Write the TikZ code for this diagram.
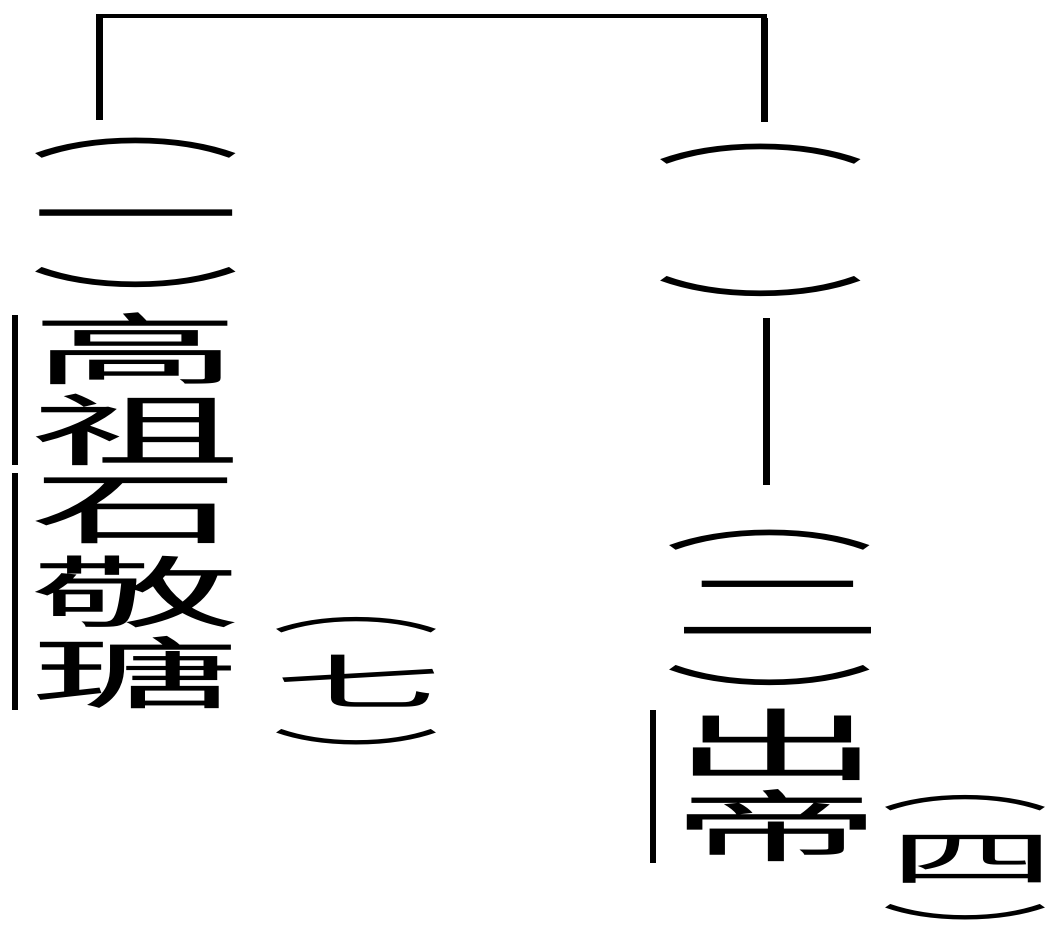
\documentclass[tikz,border=0pt]{standalone}
\usepackage{fontspec}
\usepackage{graphicx}
\newfontfamily\cjk{Noto Sans CJK SC}
% horizontally widened glyph
\newcommand\wide[2]{\scalebox{#1}[1]{#2}}
% closing vertical bracket lowered towards the baseline, box trimmed to the arc
\newcommand\closep{\raisebox{-0.6em}[0.3em][0pt]{︶}}
\begin{document}
\begin{tikzpicture}[x=1pt,y=-1pt,
  bigchar/.style={inner sep=0pt, font=\cjk\fontsize{78}{78}\selectfont},
  smallchar/.style={inner sep=0pt, font=\cjk\fontsize{60}{60}\selectfont},
  toprule/.style={line width=4pt},
  stem/.style={line width=7pt},
  sideline/.style={line width=6pt}]
\useasboundingbox[fill=white] (0,0) rectangle (1061,930);

% ---- left branch: (一) 高祖石敬瑭 (七)
\node[bigchar] (lpo) at (136,148) {\wide{2.7}{︵}};
\node[bigchar] (lnum) at (136,227) {\wide{2.7}{一}};
\node[bigchar] (lpc) at (136,274) {\wide{2.7}{\closep}};
\node[bigchar] (g1) at (136,349) {\wide{2.7}{高}};
\node[bigchar] (g2) at (136,430) {\wide{2.7}{祖}};
\node[bigchar] (g3) at (136,511) {\wide{2.7}{石}};
\node[bigchar] (g4) at (136,592) {\wide{2.7}{敬}};
\node[bigchar] (g5) at (136,673) {\wide{2.7}{瑭}};
\node[smallchar] (qpo) at (356,625) {\wide{2.8}{︵}};
\node[smallchar] (qnum) at (358,681) {\wide{2.8}{七}};
\node[smallchar] (qpc) at (356,734) {\wide{2.8}{\closep}};

% ---- right branch: ( ) | (二) 出帝 (四)
\node[bigchar] (rpo) at (761,154) {\wide{2.7}{︵}};
\node[bigchar] (rpc) at (761,283) {\wide{2.7}{\closep}};
\node[bigchar] (spo) at (770,540) {\wide{2.7}{︵}};
\node[bigchar] (snum) at (778,608) {\wide{2.7}{二}};
\node[bigchar] (spc) at (770,672) {\wide{2.7}{\closep}};
\node[bigchar] (c1) at (777,745) {\wide{2.7}{出}};
\node[bigchar] (c2) at (777,826) {\wide{2.7}{帝}};
\node[smallchar] (tpo) at (965,803) {\wide{2.8}{︵}};
\node[smallchar] (tnum) at (972,859) {\wide{2.8}{四}};
\node[smallchar] (tpc) at (965,909) {\wide{2.8}{\closep}};

% ---- bracket joining the two branches
\coordinate (lt) at (99,16);
\coordinate (rt) at (764,16);
\coordinate (lb) at (99,120);
\coordinate (rb) at (764,122);
\draw[toprule] ([xshift=-3pt]lt) -- ([xshift=3pt]rt);
\draw[stem] ([yshift=-2pt]lt) -- (lb);
\draw[stem] ([yshift=-2pt]rt) -- (rb);

% ---- descent line between the two right entries
\coordinate (ma) at (766,318);
\coordinate (mb) at (766,485);
\draw[stem] (ma) -- (mb);

% ---- side rules marking the names
\coordinate (la) at (15,315);
\coordinate (lm1) at (15,465);
\coordinate (lm2) at (15,473);
\coordinate (lz) at (15,710);
\draw[sideline] (la) -- (lm1);
\draw[sideline] (lm2) -- (lz);
\coordinate (ra) at (653,710);
\coordinate (rz) at (653,863);
\draw[sideline] (ra) -- (rz);
\end{tikzpicture}
\end{document}
